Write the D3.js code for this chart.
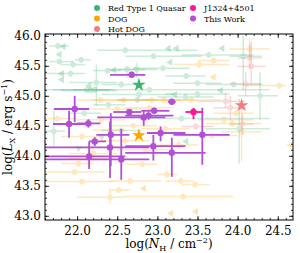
<!DOCTYPE html>
<html>
<head>
<meta charset="utf-8">
<script src="https://cdn.jsdelivr.net/npm/d3@7"></script>
<style>
  body { margin: 0; background: #fff; }
  text { font-family: "DejaVu Serif", serif; fill: #000; }
</style>
</head>
<body>
<div id="container"></div>
<script>
// each row: [logNH, logLX, NH low, NH high, LX low, LX high]
var rt1Det = [
  [21.76, 45.83, 21.65, 21.90, 45.78, 45.88], [21.78, 45.57, 21.65, 21.95, 45.52, 45.62],
  [21.95, 45.52, 21.80, 22.10, 45.47, 45.57], [22.05, 45.60, 21.97, 22.17, 45.55, 45.65],
  [21.92, 45.37, 21.60, 22.10, 45.32, 45.42], [22.24, 45.22, 21.90, 22.50, 44.83, 45.52],
  [22.12, 45.10, 21.70, 22.40, 45.05, 45.15], [22.17, 45.09, 21.80, 22.50, 45.04, 45.14],
  [22.22, 45.10, 21.95, 22.45, 45.05, 45.15], [22.38, 45.42, 22.20, 22.55, 45.37, 45.47],
  [22.55, 45.19, 22.30, 22.80, 45.14, 45.24], [22.60, 45.76, 22.25, 23.50, 45.71, 45.81],
  [22.62, 45.44, 22.40, 22.85, 45.30, 45.50], [22.74, 45.44, 22.50, 23.00, 45.30, 45.55],
  [22.95, 45.66, 22.60, 23.55, 45.61, 45.71], [23.07, 45.46, 22.70, 23.40, 45.41, 45.51],
  [22.77, 45.02, 22.30, 23.20, 44.97, 45.07], [22.75, 44.93, 22.50, 23.00, 44.88, 44.98],
  [23.36, 45.33, 23.10, 23.60, 45.28, 45.38], [23.50, 45.21, 23.20, 23.80, 45.16, 45.26],
  [23.35, 44.98, 23.00, 23.70, 44.93, 45.03], [23.50, 45.03, 23.10, 23.90, 44.98, 45.08],
  [23.64, 45.68, 23.30, 24.20, 45.63, 45.73], [24.07, 45.66, 23.90, 24.30, 45.10, 46.00],
  [23.95, 45.19, 23.60, 24.30, 45.14, 45.24], [24.28, 45.00, 24.00, 24.50, 44.60, 45.40],
  [22.09, 44.71, 21.90, 22.30, 44.66, 44.76], [21.71, 44.41, 21.60, 21.85, 44.15, 44.75],
  [22.39, 44.85, 22.20, 22.60, 44.80, 44.90], [22.55, 44.42, 22.30, 22.80, 44.37, 44.47],
  [23.30, 44.62, 22.90, 24.40, 44.57, 44.67], [24.02, 44.45, 23.60, 24.40, 43.87, 44.95],
  [22.90, 45.10, 21.60, 24.40, 45.05, 45.15]
];
var rt1Lim = [
  [21.83, 45.82], [21.78, 45.69], [21.81, 45.37], [21.81, 45.27], [22.15, 45.17],
  [22.46, 45.43], [23.14, 45.79], [23.24, 45.79], [23.16, 45.56], [23.22, 45.02],
  [23.81, 45.79], [23.79, 45.09], [23.36, 44.24]
];
var rt1Down = [[22.02, 44.13], [22.31, 44.32]];

var dogDet = [
  [22.29, 44.93, 22.00, 22.60, 44.88, 44.98], [22.58, 44.93, 22.20, 22.90, 44.88, 44.98],
  [22.93, 44.93, 22.50, 23.30, 44.88, 44.98], [23.08, 44.93, 22.80, 23.50, 44.88, 44.98],
  [23.42, 44.93, 23.00, 23.80, 44.88, 44.98], [23.52, 45.52, 23.20, 23.90, 45.47, 45.57],
  [23.70, 45.59, 23.50, 23.90, 45.54, 45.64], [24.15, 45.78, 23.90, 24.40, 45.60, 45.95],
  [24.52, 45.17, 24.10, 24.60, 45.12, 45.22], [23.83, 44.60, 23.50, 24.20, 44.55, 44.65],
  [23.93, 44.54, 23.60, 24.30, 44.49, 44.59], [23.98, 44.71, 23.70, 24.20, 44.66, 44.76],
  [23.68, 44.34, 23.30, 24.00, 44.29, 44.39], [24.05, 44.40, 23.80, 24.30, 43.90, 44.80],
  [22.06, 44.32, 21.80, 22.30, 44.27, 44.37], [22.41, 44.43, 22.20, 22.60, 44.38, 44.48],
  [22.20, 44.04, 21.90, 22.50, 43.90, 44.15], [22.14, 43.96, 21.90, 22.40, 43.80, 44.05],
  [22.02, 43.87, 21.80, 22.20, 43.82, 43.92], [21.97, 43.73, 21.60, 22.35, 43.68, 43.78],
  [22.06, 43.57, 21.60, 22.45, 43.52, 43.62], [22.52, 43.43, 22.40, 22.65, 43.38, 43.48],
  [22.41, 43.31, 22.00, 22.60, 43.20, 43.42], [22.66, 43.58, 22.40, 23.05, 43.53, 43.63],
  [22.81, 43.86, 22.60, 23.00, 43.81, 43.91], [23.12, 43.69, 23.00, 23.25, 43.64, 43.74],
  [23.29, 43.58, 23.10, 23.45, 43.53, 43.63], [23.47, 43.52, 23.30, 23.65, 43.47, 43.57],
  [23.32, 43.32, 22.60, 23.95, 43.27, 43.37], [23.27, 44.18, 23.00, 23.50, 44.10, 44.26],
  [22.30, 44.60, 22.00, 22.60, 44.55, 44.65], [22.70, 44.50, 22.40, 23.00, 44.45, 44.55],
  [22.90, 44.80, 22.60, 23.20, 44.75, 44.85], [23.10, 44.45, 22.80, 23.40, 44.40, 44.50],
  [22.60, 44.25, 22.30, 22.90, 44.20, 44.30], [22.85, 44.10, 22.50, 23.20, 44.05, 44.15],
  [21.75, 44.62, 21.60, 22.00, 44.57, 44.67], [22.50, 44.78, 22.20, 22.80, 44.73, 44.83]
];
var dogLim = [[22.83, 43.46], [23.17, 43.04], [23.48, 43.07], [23.70, 45.31], [24.66, 44.18]];

var hotDogDet = [
  [24.15, 45.63, 24.00, 24.30, 45.45, 45.85], [24.17, 45.49, 24.00, 24.35, 45.20, 45.90],
  [24.10, 45.20, 23.90, 24.30, 45.00, 45.40], [23.85, 44.91, 23.50, 24.10, 44.80, 45.05],
  [23.91, 44.80, 23.70, 24.10, 44.60, 45.00], [24.06, 44.53, 23.90, 24.20, 44.35, 44.70],
  [23.48, 44.49, 23.30, 23.70, 44.44, 44.54]
];

var thisWork = [
  [22.68, 45.35, 22.41, 22.85, 45.30, 45.40], [21.97, 44.78, 21.71, 22.15, 44.56, 45.00],
  [21.90, 44.53, 21.70, 22.17, 44.30, 44.75], [22.14, 44.54, 22.00, 22.29, 44.47, 44.61],
  [22.22, 44.24, 22.15, 22.36, 44.16, 44.31], [22.42, 44.35, 22.24, 22.65, 43.83, 44.71],
  [22.41, 44.14, 21.60, 22.90, 43.63, 44.57], [22.15, 43.99, 21.60, 22.60, 43.78, 44.24],
  [22.55, 43.94, 21.60, 22.90, 43.60, 44.45], [22.65, 44.73, 22.45, 22.80, 44.68, 44.78],
  [22.83, 44.64, 22.25, 23.10, 44.50, 44.75], [22.89, 44.67, 22.60, 23.20, 44.60, 44.74],
  [22.96, 44.75, 22.80, 23.15, 44.70, 44.80], [23.04, 44.38, 22.87, 23.35, 44.24, 44.49],
  [23.18, 44.90, 23.13, 23.23, 44.87, 44.93], [23.56, 44.35, 23.20, 23.90, 43.85, 44.80],
  [22.95, 44.16, 22.60, 23.35, 43.92, 44.35], [23.18, 44.05, 22.60, 23.60, 43.65, 44.30]
];
var j1324 = [[23.45, 44.73, 23.35, 23.57, 44.61, 44.80]];

// median stars: [logNH, logLX]
var starRT1 = [22.77, 45.18];
var starDOG = [22.77, 44.34];
var starHotDOG = [24.05, 44.84];

var xTicks = [22.0, 22.5, 23.0, 23.5, 24.0, 24.5];
var yTicks = [43.0, 43.5, 44.0, 44.5, 45.0, 45.5, 46.0];

var colors = {rt1: '#3cb371', dog: '#ffa500', hot: '#f08080', j: '#ff1493', tw: '#b24fd6'};

var svg = d3.select('#container').append('svg')
  .attr('width', 300).attr('height', 253);

var x = d3.scaleLinear().domain([21.6, 24.69]).range([45, 293]);
var y = d3.scaleLinear().domain([42.93, 46.03]).range([220, 34]);

var plot = svg.append('g');
plot.append('clipPath').attr('id', 'clip').append('rect')
  .attr('x', 45).attr('y', 34).attr('width', 248).attr('height', 186);
var inner = plot.append('g').attr('clip-path', 'url(#clip)');

// draws a set of points with error bars
function drawErr(rows, color, opacity, lw, r) {
  var g = inner.append('g').attr('opacity', 1);
  rows.forEach(function(d) {
    var p = g.append('g').attr('opacity', opacity);
    p.append('line').attr('x1', x(d[2])).attr('x2', x(d[3])).attr('y1', y(d[1])).attr('y2', y(d[1]))
      .attr('stroke', color).attr('stroke-width', lw);
    p.append('line').attr('x1', x(d[0])).attr('x2', x(d[0])).attr('y1', y(d[4])).attr('y2', y(d[5]))
      .attr('stroke', color).attr('stroke-width', lw);
    p.append('circle').attr('cx', x(d[0])).attr('cy', y(d[1])).attr('r', r).attr('fill', color);
  });
}

function drawTri(rows, color, opacity, rot) {
  inner.append('g').selectAll('path').data(rows).join('path')
    .attr('d', d3.symbol(d3.symbolTriangle, 22))
    .attr('transform', function(d) { return 'translate(' + x(d[0]) + ',' + y(d[1]) + ') rotate(' + rot + ')'; })
    .attr('fill', color).attr('opacity', opacity);
}

drawErr(rt1Det, colors.rt1, 0.25, 1.5, 2.8);
drawTri(rt1Lim, colors.rt1, 0.3, -90);
drawTri(rt1Down, colors.rt1, 0.3, 180);
drawErr(dogDet, colors.dog, 0.25, 1.5, 2.8);
drawTri(dogLim, colors.dog, 0.3, -90);
drawErr(hotDogDet, colors.hot, 0.3, 1.5, 2.8);

drawErr(thisWork, colors.tw, 1, 1.8, 3.2);
drawErr(j1324, colors.j, 1, 1.8, 3.2);

// stars
[[starRT1, colors.rt1], [starDOG, colors.dog], [starHotDOG, colors.hot]].forEach(function(s) {
  inner.append('path')
    .attr('d', d3.symbol(d3.symbolStar, 58))
    .attr('transform', 'translate(' + x(s[0][0]) + ',' + y(s[0][1]) + ')')
    .attr('fill', s[1]);
});

// axes with inward ticks on all sides
function minor(domain, step) {
  var out = [];
  for (var v = Math.ceil(domain[0] / step) * step; v <= domain[1] + 1e-9; v += step) out.push(+v.toFixed(2));
  return out;
}
var xMinor = minor(x.domain(), 0.1);
var yMinor = minor(y.domain(), 0.1);

function styleAxis(g) {
  g.select('.domain').remove();
  g.selectAll('line').attr('stroke', '#000').attr('stroke-width', 0.8);
  g.selectAll('text').style('font-family', '"DejaVu Serif", serif').style('font-size', '12px');
}

svg.append('g').attr('transform', 'translate(0,220)')
  .call(d3.axisBottom(x).tickValues(xTicks).tickSize(-4).tickPadding(6).tickFormat(d3.format('.1f'))).call(styleAxis);
svg.append('g').attr('transform', 'translate(0,220)')
  .call(d3.axisBottom(x).tickValues(xMinor).tickSize(-2).tickFormat('')).call(styleAxis);
svg.append('g').attr('transform', 'translate(0,34)')
  .call(d3.axisTop(x).tickValues(xTicks).tickSize(-4).tickFormat('')).call(styleAxis);
svg.append('g').attr('transform', 'translate(0,34)')
  .call(d3.axisTop(x).tickValues(xMinor).tickSize(-2).tickFormat('')).call(styleAxis);
svg.append('g').attr('transform', 'translate(45,0)')
  .call(d3.axisLeft(y).tickValues(yTicks).tickSize(-4).tickPadding(4).tickFormat(d3.format('.1f'))).call(styleAxis);
svg.append('g').attr('transform', 'translate(45,0)')
  .call(d3.axisLeft(y).tickValues(yMinor).tickSize(-2).tickFormat('')).call(styleAxis);
svg.append('g').attr('transform', 'translate(293,0)')
  .call(d3.axisRight(y).tickValues(yTicks).tickSize(-4).tickFormat('')).call(styleAxis);
svg.append('g').attr('transform', 'translate(293,0)')
  .call(d3.axisRight(y).tickValues(yMinor).tickSize(-2).tickFormat('')).call(styleAxis);

svg.append('rect').attr('x', 45).attr('y', 34).attr('width', 248).attr('height', 186)
  .attr('fill', 'none').attr('stroke', '#000').attr('stroke-width', 1);

// axis labels
var xl = svg.append('text').attr('x', 169).attr('y', 248).attr('text-anchor', 'middle').style('font-size', '12px');
xl.append('tspan').text('log(');
xl.append('tspan').attr('font-style', 'italic').text('N');
xl.append('tspan').attr('dy', 3).style('font-size', '8px').text('H');
xl.append('tspan').attr('dy', -3).text(' / cm');
xl.append('tspan').attr('dy', -5).style('font-size', '8px').text('\u22122');
xl.append('tspan').attr('dy', 5).text(')');

var yl = svg.append('text').attr('transform', 'translate(12,127) rotate(-90)').attr('text-anchor', 'middle').style('font-size', '12px');
yl.append('tspan').text('log(');
yl.append('tspan').attr('font-style', 'italic').text('L');
yl.append('tspan').attr('dy', 3).style('font-size', '8px').text('X');
yl.append('tspan').attr('dy', -3).text(' / erg s');
yl.append('tspan').attr('dy', -5).style('font-size', '8px').text('\u22121');
yl.append('tspan').attr('dy', 5).text(')');

// legend
var legendItems = [
  {label: 'Red Type 1 Quasar', color: colors.rt1, cx: 97, cy: 8},
  {label: 'DOG', color: colors.dog, cx: 97, cy: 18.5},
  {label: 'Hot DOG', color: colors.hot, cx: 97, cy: 29},
  {label: 'J1324+4501', color: colors.j, cx: 193, cy: 8},
  {label: 'This Work', color: colors.tw, cx: 193, cy: 18.5}
];
var lg = svg.append('g').selectAll('g').data(legendItems).join('g');
lg.append('circle').attr('cx', function(d) { return d.cx; }).attr('cy', function(d) { return d.cy; })
  .attr('r', 3).attr('fill', function(d) { return d.color; });
lg.append('text').attr('x', function(d) { return d.cx + 11; }).attr('y', function(d) { return d.cy + 3; })
  .style('font-size', '8px').text(function(d) { return d.label; });
</script>
</body>
</html>
